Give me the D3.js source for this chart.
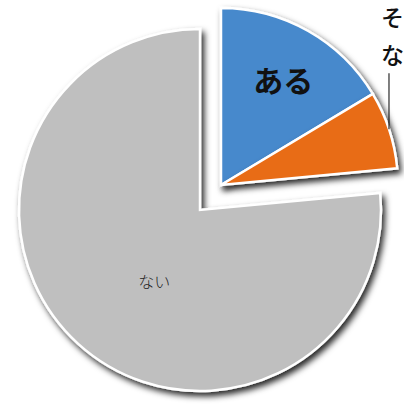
<!DOCTYPE html>
<html><head><meta charset="utf-8">
<script src="https://cdn.jsdelivr.net/npm/d3@7"></script>
<style>html,body{margin:0;padding:0;background:#fff;overflow:hidden}</style>
</head><body>
<svg id="c" width="404" height="407"></svg>
<script>
const categories = ["ある", "その他", "ない"];
const values = [16.4, 7.1, 76.5];
// visible label text (the third label runs off the canvas in the source; only its first glyphs show)
const labelLines = [["ある"], ["そ", "な"], ["ない"]];
const colors = ["#4689cc", "#e86c17", "#bfbfbf"];
const exploded = [true, true, false];

const svg = d3.select("#c");
const cx = 200, cy = 210, r = 181, rEx = 177;
const defs = svg.append("defs");
const f = defs.append("filter").attr("id","sh").attr("x","-20%").attr("y","-20%").attr("width","150%").attr("height","150%");
f.append("feDropShadow").attr("dx",3).attr("dy",4).attr("stdDeviation",3).attr("flood-color","#000").attr("flood-opacity",0.85);

const pie = d3.pie().sort(null).value(d=>d)(values);
const arc = d3.arc().innerRadius(0).outerRadius((d)=> exploded[d.index] ? rEx : r);
const exDx = 21, exDy = -25;

const g = svg.append("g").attr("transform",`translate(${cx},${cy})`);
const slices = g.selectAll("g.s").data(pie).join("g")
  .attr("class","s")
  .attr("transform",(d,i)=> exploded[i] ? `translate(${exDx},${exDy})` : null);
slices.append("path")
  .attr("d",arc)
  .attr("fill",(d,i)=>colors[i])
  .attr("stroke","#fff").attr("stroke-width",2.5).attr("stroke-linejoin","miter")
  .attr("filter","url(#sh)");

// ある
const labelArc = d3.arc().innerRadius(0).outerRadius(rEx*1.36);
const c0 = labelArc.centroid(pie[0]);
g.append("text").attr("x",c0[0]+exDx+3).attr("y",c0[1]+exDy-1)
  .attr("text-anchor","middle").attr("dominant-baseline","central")
  .attr("font-family","'Noto Sans CJK JP'").attr("font-weight","bold")
  .attr("font-size",30).attr("fill","#111").text(labelLines[0][0]);
// ない
const naArc = d3.arc().innerRadius(0).outerRadius(r*0.95);
const c2 = naArc.centroid(pie[2]);
g.append("text").attr("x",c2[0]+12).attr("y",c2[1]+7)
  .attr("text-anchor","middle").attr("dominant-baseline","central")
  .attr("font-family","'Noto Sans CJK JP'").attr("font-weight",300)
  .attr("font-size",16).attr("fill","#222").text(labelLines[2][0]);
// outside label with leader line
const a = pie[1].startAngle + 0.22;
const ox = rEx*Math.sin(a)+exDx, oy = -rEx*Math.cos(a)+exDy;
g.append("line").attr("x1",ox).attr("x2",ox).attr("y1",oy).attr("y2",oy-56)
  .attr("stroke","#000").attr("stroke-width",1);
const t = g.append("text").attr("font-family","'Noto Sans CJK JP'").attr("font-size",23)
  .attr("font-weight",500).attr("fill","#111");
labelLines[1].forEach((s,i)=>{
  t.append("tspan").attr("x",ox-8).attr("y",oy-103+i*38).text(s);
});
</script>
</body></html>
